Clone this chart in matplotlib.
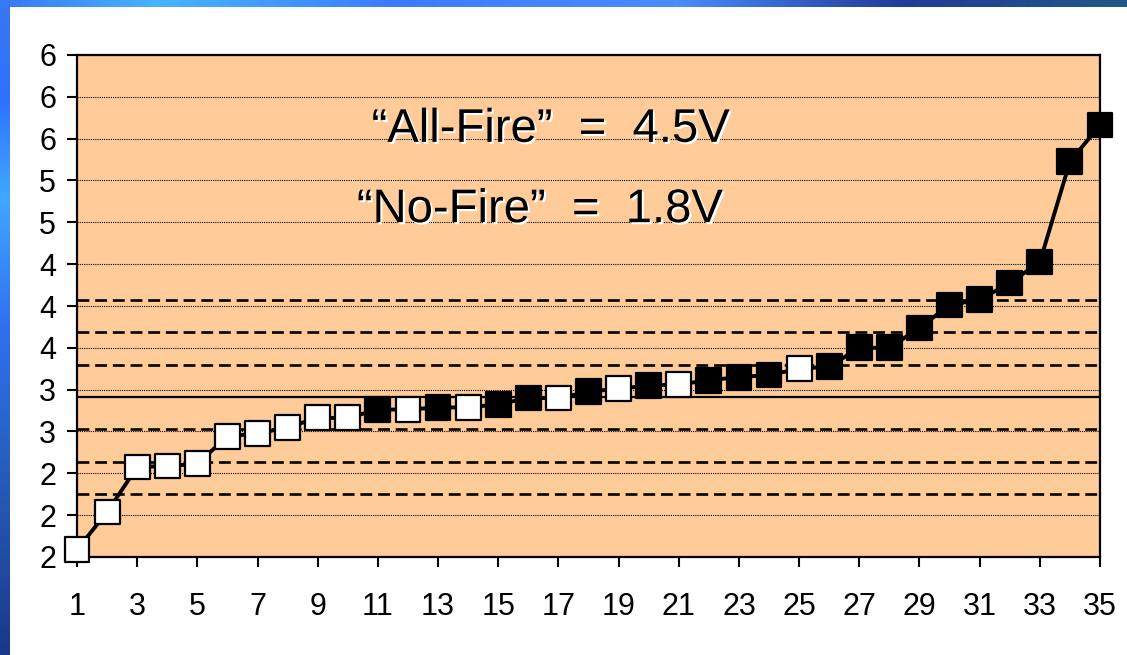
import numpy as np
import matplotlib
matplotlib.use("Agg")
import matplotlib.pyplot as plt
import matplotlib.patheffects as pe
from matplotlib.colors import LinearSegmentedColormap

plt.rcParams["font.family"] = ["Liberation Sans", "DejaVu Sans"]
plt.rcParams["xtick.labelsize"] = 22
plt.rcParams["ytick.labelsize"] = 22

# test number and measured voltage
shot = list(range(1, 36))
volts = [1.67, 2.03, 2.46, 2.47, 2.49, 2.755, 2.78, 2.84, 2.93, 2.93,
         3.01, 3.01, 3.03, 3.03, 3.06, 3.12, 3.12, 3.18, 3.21, 3.24,
         3.25, 3.29, 3.32, 3.34, 3.40, 3.42, 3.60, 3.60, 3.79, 4.01,
         4.06, 4.22, 4.42, 5.38, 5.73]
# 1 = fired (black square), 0 = no fire (white square)
fired = [0, 0, 0, 0, 0, 0, 0, 0, 0, 0,
         1, 0, 1, 0, 1, 1, 0, 1, 0, 1,
         0, 1, 1, 1, 0, 1, 1, 1, 1, 1,
         1, 1, 1, 1, 1]

xticks = list(range(1, 36, 2))
yticks = [1.6, 2.0, 2.4, 2.8, 3.2, 3.6, 4.0, 4.4, 4.8, 5.2, 5.6, 6.0, 6.4]
ytick_labels = ["2", "2", "2", "3", "3", "4", "4", "4", "5", "5", "6", "6", "6"]

# mean and sigma lines
mean_v = 3.13
sigma_v = 0.31
sigma_steps = [-3, -2, -1, 1, 2, 3]

all_fire = "\u201cAll-Fire\u201d  =  4.5V"
no_fire = "\u201cNo-Fire\u201d  =  1.8V"

W, H = 1127, 655
fig = plt.figure(figsize=(W / 100, H / 100), dpi=100)
fig.patch.set_facecolor("white")

# slide background strips
top_cmap = LinearSegmentedColormap.from_list(
    "top", [(0, "#3878f0"), (0.14, "#48b4ff"), (0.35, "#3c7cff"),
            (0.6, "#4a8cff"), (0.8, "#203c98"), (1, "#1f5888")])
left_cmap = LinearSegmentedColormap.from_list(
    "left", [(0, "#3878f0"), (0.15, "#3070ff"), (0.3, "#40a8ff"),
             (0.5, "#3070f0"), (0.7, "#2860c0"), (1, "#1a3888")])
top = fig.add_axes([0, 1 - 7 / H, 1, 7 / H])
top.imshow(np.linspace(0, 1, 256)[None, :], aspect="auto", cmap=top_cmap)
top.axis("off")
left = fig.add_axes([0, 0, 10 / W, 1])
left.imshow(np.linspace(0, 1, 256)[:, None], aspect="auto", cmap=left_cmap)
left.axis("off")

ax = fig.add_axes([77 / W, 98 / H, 1023 / W, 502 / H])
ax.set_facecolor("#FFCC99")
ax.set_xlim(1, 35)
ax.set_ylim(1.6, 6.4)

for v in yticks[1:]:
    ax.axhline(v, color="k", lw=0.8, ls=(0, (1, 1)), zorder=1)
for k in sigma_steps:
    ax.axhline(mean_v + k * sigma_v, color="k", lw=1.9, ls=(0, (4.5, 2.2)), zorder=1)
ax.axhline(mean_v, color="k", lw=1.6, zorder=1)

ax.plot(shot, volts, color="k", lw=2.8, zorder=3, clip_on=False)
ax.scatter(shot, volts, marker="s", s=320,
           c=["k" if f else "w" for f in fired],
           edgecolors="k", linewidths=1.6, zorder=4, clip_on=False)

ax.set_xticks(xticks)
ax.set_xticklabels([str(t) for t in xticks])
ax.set_yticks(yticks)
ax.set_yticklabels(ytick_labels)
ax.tick_params(direction="out", length=7, width=1.5, colors="k")
ax.tick_params(axis="x", pad=18)
ax.tick_params(axis="y", pad=8)
for s in ax.spines.values():
    s.set_linewidth(1.6)

shadow = [pe.withSimplePatchShadow(offset=(1.5, -1.5), shadow_rgbFace="white", alpha=1)]
ax.text(0.463, 0.827, all_fire, transform=ax.transAxes, ha="center", va="baseline",
        fontsize=34, path_effects=shadow, zorder=5)
ax.text(0.4526, 0.667, no_fire, transform=ax.transAxes, ha="center", va="baseline",
        fontsize=34, path_effects=shadow, zorder=5)

fig.savefig("out.png", dpi=100)
